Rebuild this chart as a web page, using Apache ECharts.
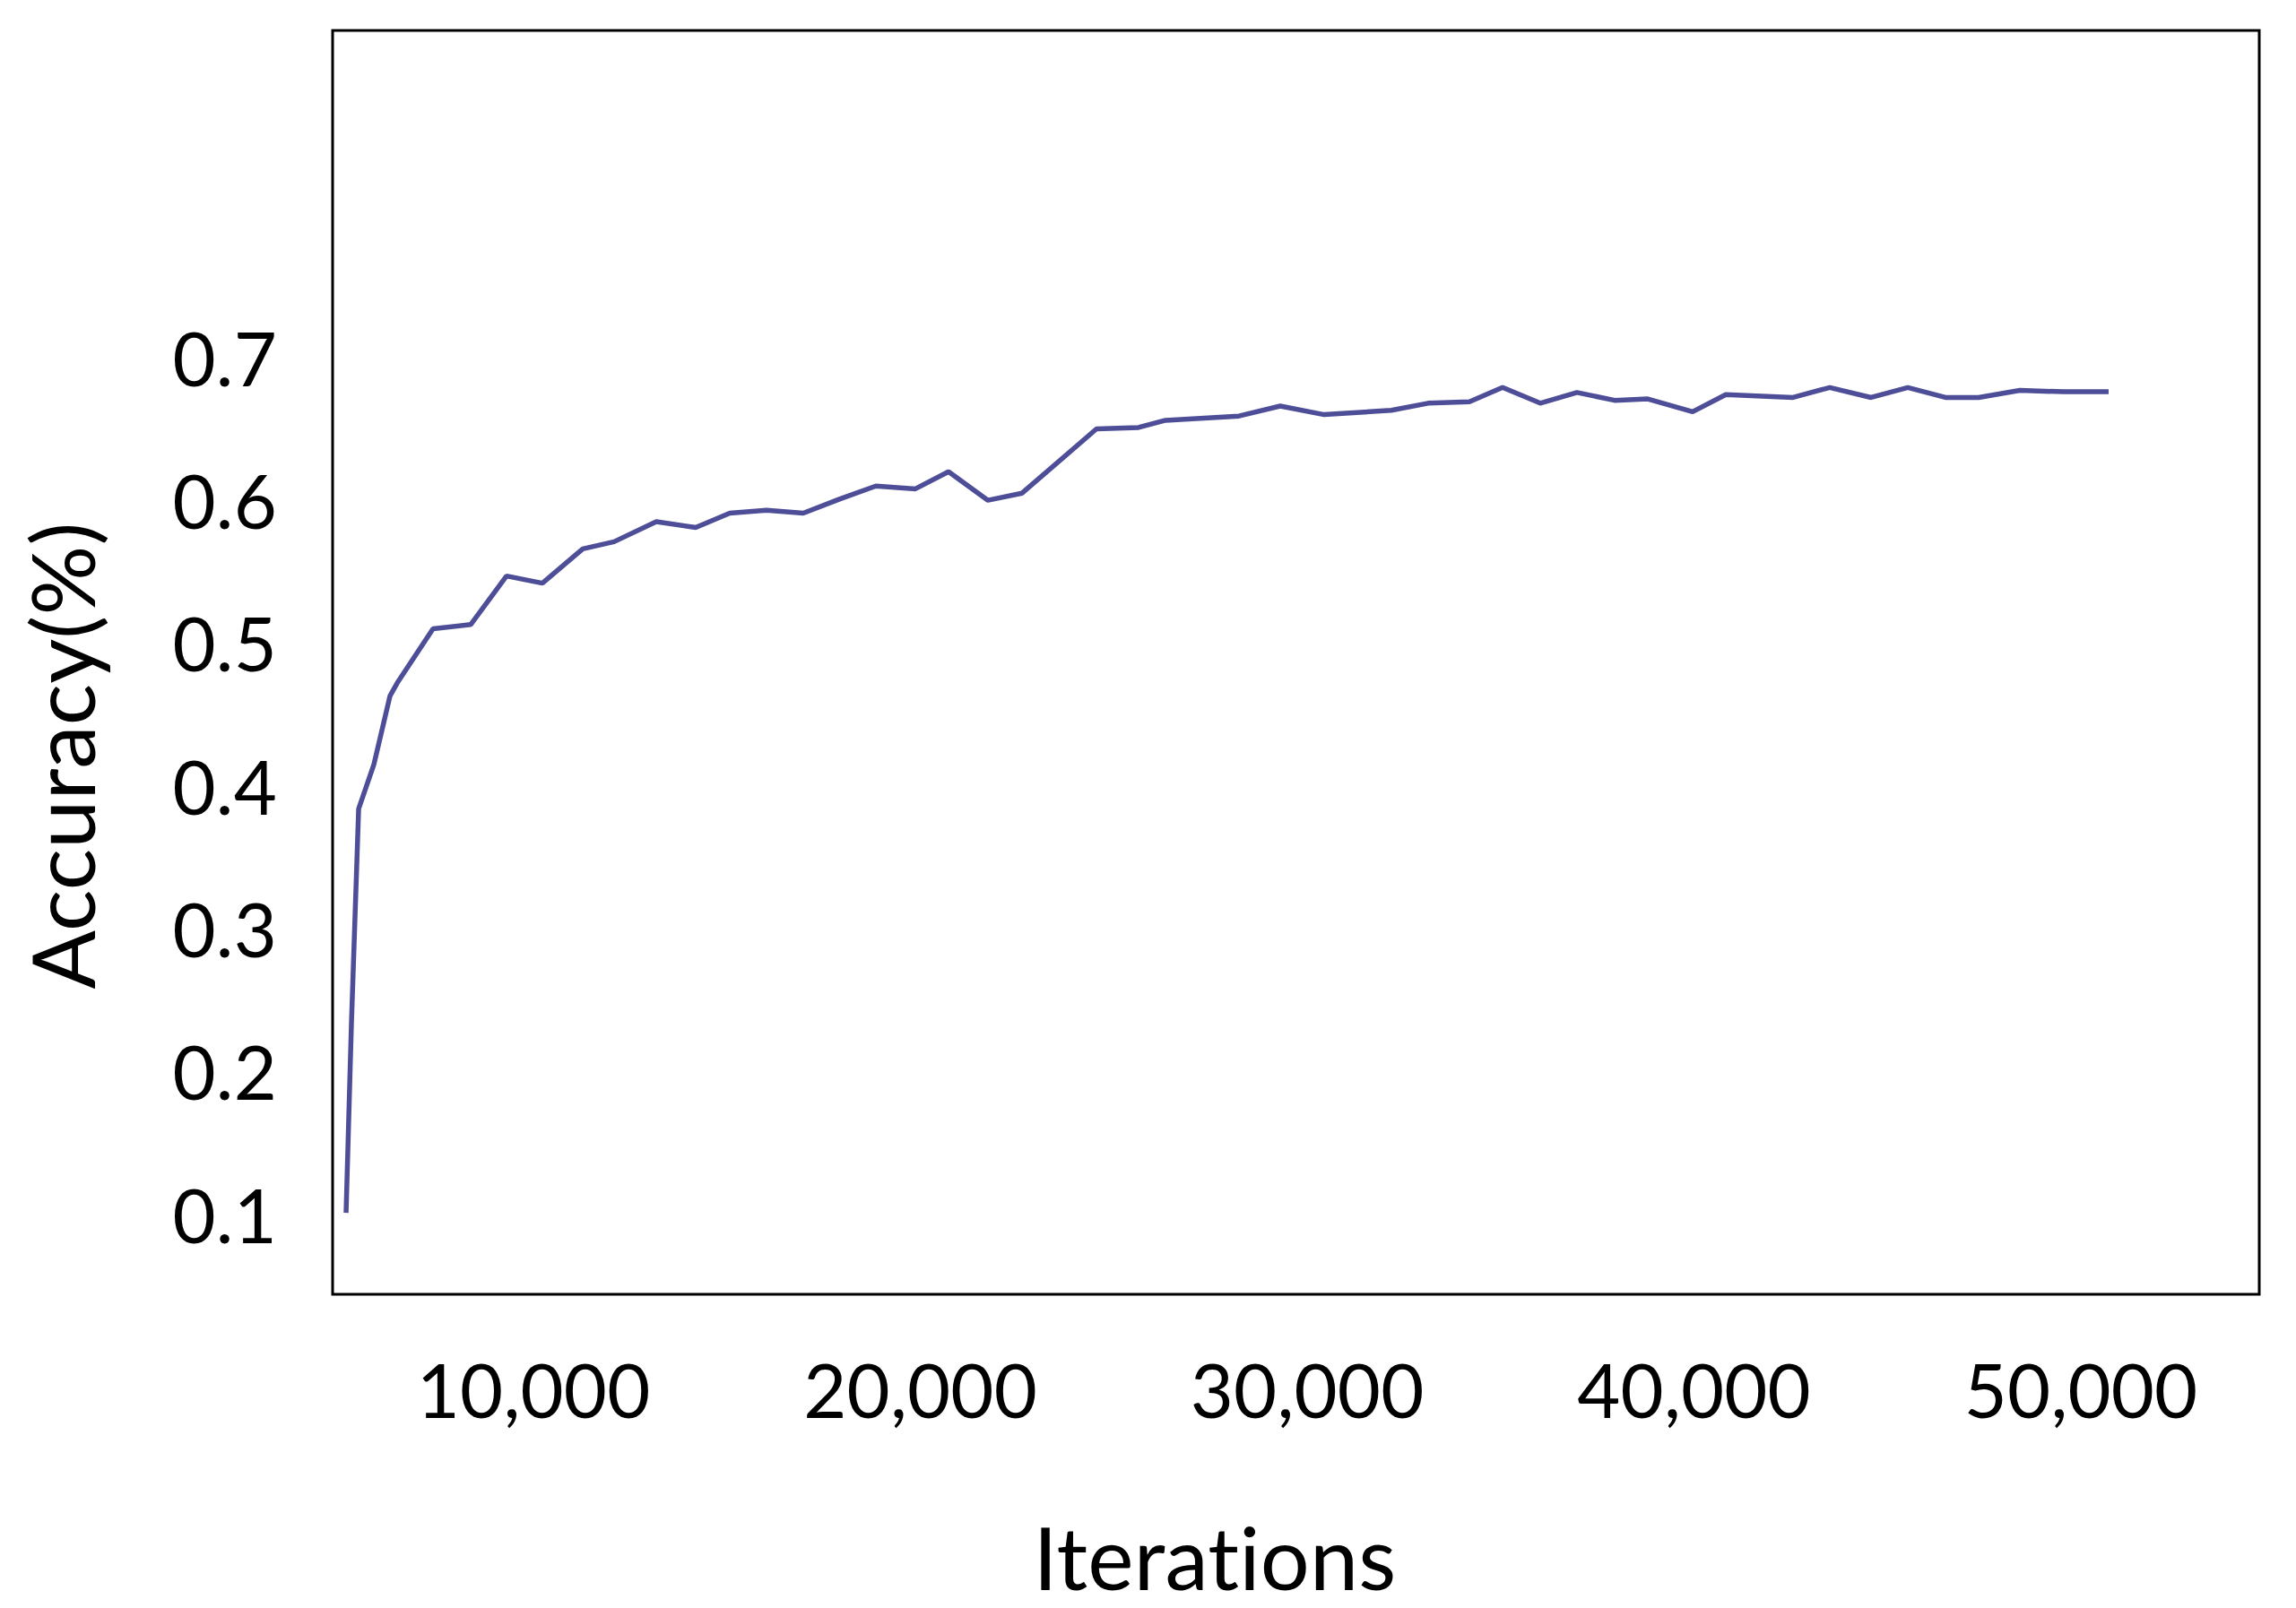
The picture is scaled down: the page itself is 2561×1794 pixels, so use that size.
<!DOCTYPE html>
<html>
<head>
<meta charset="utf-8">
<title>Accuracy vs Iterations</title>
<script src="https://cdn.jsdelivr.net/npm/echarts@6/dist/echarts.min.js"></script>
<style>
  html, body { margin: 0; padding: 0; background: #fff; }
  #chart { width: 2561px; height: 1794px; }
  /* the reference has no "ti" ligature */
  #chart text {
    font-variant-ligatures: none !important;
    font-feature-settings: "liga" 0, "clig" 0 !important;
    letter-spacing: 0.2px !important;
  }
</style>
</head>
<body>
<div id="chart"></div>
<script>
  // values
  const iterations = [5154, 5293, 5479, 5873, 6290, 6475, 7402, 8375, 9302, 10229,
    11272, 12083, 13173, 14192, 15073, 16023, 16973, 17924, 18850, 19870,
    20728, 21747, 22628, 24552, 25641, 26336, 28236, 29302, 30438, 32176,
    33126, 34192, 35050, 36023, 36973, 37947, 38804, 39963, 40820, 42559,
    43509, 44575, 45525, 46498, 47356, 48422, 49557, 50716];
  const accuracy = [0.101, 0.234, 0.384, 0.415, 0.463, 0.472, 0.510, 0.513, 0.547, 0.542,
    0.566, 0.571, 0.585, 0.581, 0.591, 0.593, 0.591, 0.601, 0.610, 0.608,
    0.620, 0.600, 0.605, 0.650, 0.651, 0.656, 0.659, 0.666, 0.660, 0.663,
    0.668, 0.669, 0.679, 0.668, 0.6755, 0.670, 0.671, 0.662, 0.674, 0.672,
    0.679, 0.672, 0.679, 0.672, 0.672, 0.677, 0.676, 0.676];
  const yTicks = [0.1, 0.2, 0.3, 0.4, 0.5, 0.6, 0.7];
  const xTicks = [10000, 20000, 30000, 40000, 50000];

  const FONT = 'Lato';
  const points = iterations.map((x, i) => [x, accuracy[i]]);

  const chart = echarts.init(document.getElementById('chart'), null, { renderer: 'svg' });
  const option = {
    backgroundColor: '#ffffff',
    animation: false,
    grid: {
      left: 371,
      top: 34,
      right: 41,
      bottom: 350,
      show: true,
      borderColor: '#000000',
      borderWidth: 3,
      backgroundColor: 'transparent'
    },
    xAxis: {
      type: 'value',
      min: 4806,
      max: 54610,
      axisLine: { show: false },
      axisTick: { show: false },
      splitLine: { show: false },
      axisLabel: {
        customValues: xTicks,
        margin: 64,
        fontFamily: FONT,
        fontSize: 83,
        color: '#000',
        formatter: v => v.toLocaleString('en-US')
      }
    },
    yAxis: {
      type: 'value',
      min: 0.044,
      max: 0.929,
      axisLine: { show: false },
      axisTick: { show: false },
      splitLine: { show: false },
      axisLabel: {
        customValues: yTicks,
        margin: 62,
        fontFamily: FONT,
        fontSize: 83,
        color: '#000',
        formatter: v => v.toFixed(1)
      }
    },
    graphic: [
      {
        type: 'text',
        x: 68,
        y: 843,
        rotation: Math.PI / 2,
        style: {
          text: 'Accuracy(%)',
          font: '97px Lato',
          fill: '#000',
          align: 'center',
          verticalAlign: 'middle'
        }
      },
      {
        type: 'text',
        x: 1355,
        y: 1736,
        style: {
          text: 'Iterations',
          font: '97px Lato',
          fill: '#000',
          align: 'center',
          verticalAlign: 'middle'
        }
      }
    ],
    series: [
      {
        type: 'line',
        data: points,
        showSymbol: false,
        smooth: false,
        lineStyle: { color: '#4e4e98', width: 5.5 }
      }
    ]
  };
  chart.setOption(option);
</script>
</body>
</html>
